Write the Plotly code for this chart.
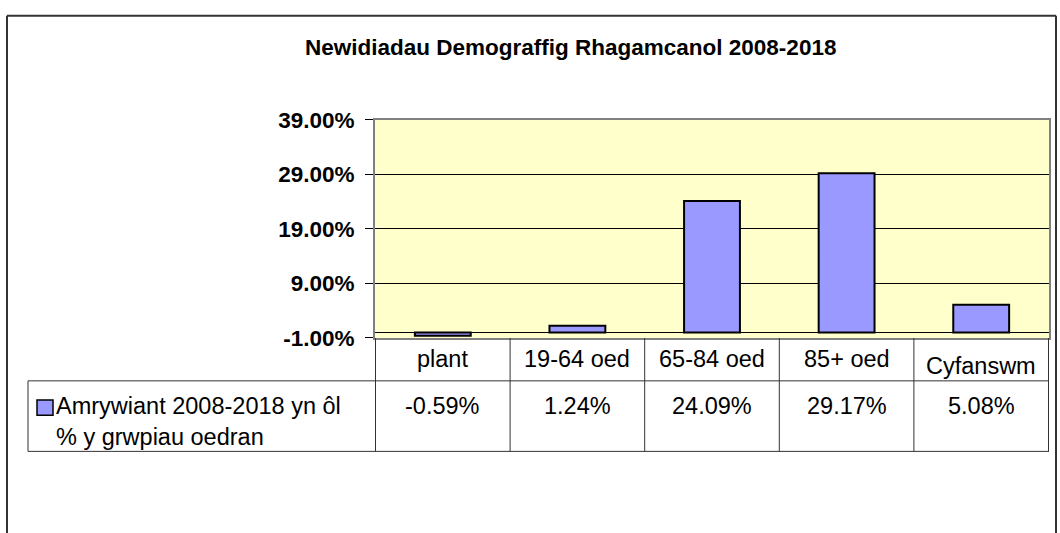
import plotly.graph_objects as go

# ---- data ----
categories = ["plant", "19-64 oed", "65-84 oed", "85+ oed", "Cyfanswm"]
values = [-0.59, 1.24, 24.09, 29.17, 5.08]
series_name = "Amrywiant 2008-2018 yn ôl<br>% y grwpiau oedran"
tick_values = [-1, 9, 19, 29, 39]
tick_labels = ["-1.00%", "9.00%", "19.00%", "29.00%", "39.00%"]
title_text = "Newidiadau Demograffig Rhagamcanol 2008-2018"

W, H = 1060, 533
FONT = "Liberation Sans, Arial, sans-serif"

def px(x):
    return x / W

def py(y):
    return 1 - y / H

# plot area in pixels
PL, PR, PT, PB = 375, 1049, 113, 342
TABLE_L = 28
ROW1_B = 387
ROW2_B = 461
BAR_COLOR = "#9999FF"
GRID = "#000000"
AXIS = "#808080"
TXT = 23.5

fig = go.Figure()
fig.add_trace(go.Bar(
    x=categories, y=values, name="series",
    marker=dict(color=BAR_COLOR, line=dict(color="#000000", width=2)),
    showlegend=False, hoverinfo="skip",
))

fig.update_layout(
    width=W, height=H, autosize=False,
    margin=dict(l=0, r=0, t=0, b=0),
    paper_bgcolor="white",
    plot_bgcolor="#FFFFCC",
    bargap=0.585,
    font=dict(family=FONT, color="black"),
    xaxis=dict(
        domain=[px(PL), px(PR)],
        type="category",
        showticklabels=False,
        showgrid=False,
        showline=True, linecolor=AXIS, linewidth=2, mirror=True,
        ticks="", zeroline=False,
    ),
    yaxis=dict(
        domain=[py(PB), py(PT)],
        range=[-1, 39],
        tickvals=tick_values, ticktext=tick_labels,
        tickfont=dict(family=FONT, size=22.5, color="black", weight="bold"),
        showgrid=True, gridcolor=GRID, gridwidth=1,
        showline=True, linecolor=AXIS, linewidth=2, mirror=True,
        ticks="outside", ticklen=8, tickcolor="#000000", tickwidth=1,
        zeroline=True, zerolinecolor="#000000", zerolinewidth=1,
        ticklabelstandoff=6,
    ),
)

shapes = []
LINE = dict(color="#333333", width=1)
BORDER = dict(color="#333333", width=2)
# outer chart border (top, left, right; bottom lies below the visible page)
shapes.append(dict(type="line", xref="paper", yref="paper",
                   x0=px(7), x1=px(1056), y0=py(4), y1=py(4), line=BORDER))
shapes.append(dict(type="line", xref="paper", yref="paper",
                   x0=px(7), x1=px(7), y0=py(4), y1=py(600), line=BORDER))
shapes.append(dict(type="line", xref="paper", yref="paper",
                   x0=px(1056), x1=px(1056), y0=py(4), y1=py(600), line=BORDER))
# table horizontal lines
for yy in (ROW1_B, ROW2_B):
    shapes.append(dict(type="line", xref="paper", yref="paper",
                       x0=px(TABLE_L), x1=px(PR), y0=py(yy), y1=py(yy), line=LINE))
# table left border
shapes.append(dict(type="line", xref="paper", yref="paper",
                   x0=px(TABLE_L), x1=px(TABLE_L), y0=py(ROW1_B), y1=py(ROW2_B), line=LINE))
# column separators at category boundaries
for i in range(len(categories) + 1):
    shapes.append(dict(type="line", xref="x", yref="paper",
                       x0=i - 0.5, x1=i - 0.5, y0=py(PB), y1=py(ROW2_B), line=LINE))
# legend key
shapes.append(dict(type="rect", xref="paper", yref="paper",
                   x0=px(37), x1=px(53), y0=py(423), y1=py(407),
                   line=dict(color="#000000", width=1.5), fillcolor=BAR_COLOR))
fig.update_layout(shapes=shapes)

ann = []
ann.append(dict(text=title_text, xref="paper", yref="paper", x=px(570), y=py(37),
                showarrow=False, xanchor="center", yanchor="middle",
                font=dict(family=FONT, size=22.5, color="black", weight="bold")))
for i, c in enumerate(categories):
    yoff = 371 if c == "Cyfanswm" else 364
    ann.append(dict(text=c, xref="x", yref="paper", x=c, y=py(yoff),
                    showarrow=False, xanchor="center", yanchor="middle",
                    font=dict(family=FONT, size=TXT, color="black")))
    ann.append(dict(text=f"{values[i]:.2f}%", xref="x", yref="paper", x=c, y=py(413),
                    showarrow=False, xanchor="center", yanchor="middle",
                    font=dict(family=FONT, size=TXT, color="black")))
ann.append(dict(text=series_name, xref="paper", yref="paper", x=px(54), y=py(430),
                showarrow=False, xanchor="left", yanchor="middle", align="left",
                font=dict(family=FONT, size=TXT, color="black")))
fig.update_layout(annotations=ann)

fig.write_html("out.html", post_script="document.body.style.margin='0';",
               config={"displayModeBar": False})
